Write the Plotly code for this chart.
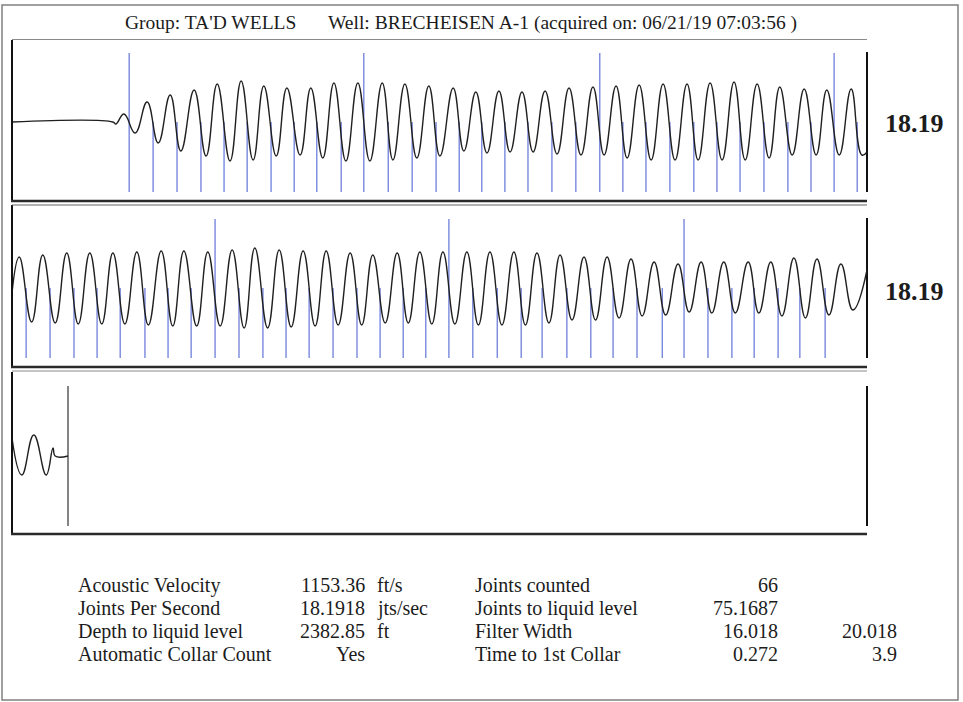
import plotly.graph_objects as go

# ---------------- data ----------------
title_group = "Group: TA'D WELLS"
title_well = "Well: BRECHEISEN A-1 (acquired on: 06/21/19 07:03:56 )"

# acoustic trace: time (s) and amplitude (arbitrary units), sampled at extrema
trace1_t = [0.000, 0.236, 0.243, 0.262, 0.288, 0.316, 0.342, 0.370, 0.395, 0.426, 0.454,
            0.480, 0.510, 0.536, 0.564, 0.589, 0.618, 0.643, 0.674, 0.699, 0.727, 0.753,
            0.781, 0.809, 0.837, 0.866, 0.891, 0.919, 0.947, 0.975, 1.001, 1.032, 1.057,
            1.085, 1.111, 1.139, 1.165, 1.193, 1.219, 1.247, 1.275, 1.303, 1.331, 1.359,
            1.385, 1.413, 1.439, 1.467, 1.495, 1.523, 1.551, 1.579, 1.605, 1.633, 1.661,
            1.689, 1.715, 1.743, 1.771, 1.796, 1.825, 1.853, 1.881, 1.906, 1.935, 1.963,
            1.988, 2.000]
trace1_a = [0, 0, -2, 8, -11, 20, -21, 27, -29, 32, -34,
            38, -39, 41, -38, 36, -34, 34, -33, 34, -36, 39,
            -39, 39, -39, 39, -38, 38, -36, 36, -34, 34, -29,
            30, -31, 31, -30, 30, -30, 31, -32, 34, -33, 35,
            -33, 36, -36, 37, -38, 38, -38, 38, -38, 39, -38,
            40, -38, 38, -36, 35, -33, 33, -33, 32, -33, 33,
            -33, -30]

trace2_t = [2.000, 2.017, 2.046, 2.072, 2.101, 2.128, 2.155, 2.182, 2.210, 2.236, 2.264,
            2.292, 2.319, 2.349, 2.376, 2.402, 2.432, 2.458, 2.487, 2.515, 2.543, 2.568,
            2.598, 2.625, 2.653, 2.681, 2.709, 2.735, 2.763, 2.791, 2.818, 2.844, 2.873,
            2.901, 2.927, 2.954, 2.982, 3.008, 3.036, 3.064, 3.091, 3.118, 3.146, 3.174,
            3.201, 3.228, 3.256, 3.282, 3.310, 3.338, 3.365, 3.392, 3.420, 3.448, 3.474,
            3.502, 3.529, 3.558, 3.584, 3.612, 3.637, 3.665, 3.692, 3.722, 3.747, 3.775,
            3.801, 3.829, 3.856, 3.883, 3.911, 3.939, 3.967, 4.000]
trace2_a = [-5, 31, -34, 33, -35, 35, -36, 35, -36, 35, -36,
            36, -37, 37, -38, 37, -38, 36, -38, 38, -40, 40,
            -40, 38, -39, 37, -38, 37, -37, 35, -37, 33, -35,
            35, -35, 36, -36, 36, -36, 36, -37, 36, -37, 36,
            -37, 35, -35, 33, -32, 31, -32, 31, -30, 29, -28,
            26, -27, 24, -24, 26, -25, 26, -25, 26, -25, 26,
            -28, 30, -30, 29, -27, 24, -22, 18]

trace3_t = [4.000, 4.023, 4.051, 4.080, 4.096, 4.101, 4.131]
trace3_a = [18, -19, 21, -19, 8, 0, 0]

# detected collars (s)
collar_times = [0.274, 0.330, 0.386, 0.442, 0.496, 0.550, 0.606, 0.660, 0.713, 0.770,
                0.823, 0.880, 0.936, 0.992, 1.046, 1.099, 1.153, 1.207, 1.263, 1.319,
                1.375, 1.429, 1.483, 1.539, 1.595, 1.649, 1.703, 1.759, 1.815, 1.869,
                1.923, 1.977, 2.033, 2.089, 2.145, 2.199, 2.253, 2.311, 2.365, 2.419,
                2.475, 2.531, 2.587, 2.641, 2.695, 2.751, 2.807, 2.861, 2.915, 2.968,
                3.022, 3.078, 3.135, 3.191, 3.240, 3.298, 3.354, 3.406, 3.462, 3.521,
                3.572, 3.628, 3.684, 3.736, 3.792, 3.843, 3.902]
major_collar_times = [0.274, 0.823, 1.375, 1.923, 2.475, 3.022, 3.572]
liquid_level_time = 4.131
panel_start_times = [0.0, 2.0, 4.0]
panel_span = 2.0
rate_labels = ["18.19", "18.19"]

# results table
left_labels = ["Acoustic Velocity", "Joints Per Second", "Depth to liquid level", "Automatic Collar Count"]
left_values = ["1153.36", "18.1918", "2382.85", "Yes"]
left_units = ["ft/s", "jts/sec", "ft", ""]
right_labels = ["Joints counted", "Joints to liquid level", "Filter Width", "Time to 1st Collar"]
right_values = ["66", "75.1687", "16.018", "0.272"]
extra_values = ["", "", "20.018", "3.9"]

# ---------------- layout geometry ----------------
W, H = 963, 702
PX_PER_S = 427.5
X_LEFT, X_END, X_DOM_RIGHT = 12, 867, 875
panels = [dict(top=40, bottom=201, center=122),
          dict(top=205, bottom=367, center=288),
          dict(top=372, bottom=534, center=456)]
MARK_TOP, MARK_BOT = 69, -70
SERIF = "Liberation Serif, Times New Roman, serif"
INK = "#1c1c1c"
BLUE = "#5468d4"


def px(x):
    return x / W


def py(y):
    return 1 - y / H


traces_t = [trace1_t, trace2_t, trace3_t]
traces_a = [trace1_a, trace2_a, trace3_a]

fig = go.Figure()
layout = dict(width=W, height=H, autosize=False, margin=dict(l=0, r=0, t=0, b=0),
              paper_bgcolor="white", plot_bgcolor="rgba(0,0,0,0)", showlegend=False)

shapes = []
for i, (p, t0) in enumerate(zip(panels, panel_start_times)):
    sfx = "" if i == 0 else str(i + 1)
    xa, ya = "x" + sfx, "y" + sfx
    layout["xaxis" + sfx] = dict(domain=[px(X_LEFT), px(X_DOM_RIGHT)],
                                 range=[t0, t0 + (X_DOM_RIGHT - X_LEFT) / PX_PER_S],
                                 visible=False, fixedrange=True, anchor=ya)
    layout["yaxis" + sfx] = dict(domain=[py(p["bottom"]), py(p["top"])],
                                 range=[p["center"] - p["bottom"], p["center"] - p["top"]],
                                 visible=False, fixedrange=True, anchor=xa)

    # collar markers
    mx, my = [], []
    for c in collar_times:
        if t0 <= c < t0 + panel_span:
            top = MARK_TOP if c in major_collar_times else 0
            mx += [c, c, None]
            my += [MARK_BOT, top, None]
    if mx:
        fig.add_trace(go.Scatter(x=mx, y=my, mode="lines", xaxis=xa, yaxis=ya,
                                 line=dict(color=BLUE, width=1.1), hoverinfo="skip"))
    # end of panel marker
    fig.add_trace(go.Scatter(x=[t0 + panel_span] * 2, y=[MARK_BOT, MARK_TOP + 1], mode="lines",
                             xaxis=xa, yaxis=ya, line=dict(color="#111", width=2), hoverinfo="skip"))
    if t0 <= liquid_level_time < t0 + panel_span:
        fig.add_trace(go.Scatter(x=[liquid_level_time] * 2, y=[MARK_BOT, MARK_TOP + 1], mode="lines",
                                 xaxis=xa, yaxis=ya, line=dict(color="#333", width=1.2),
                                 hoverinfo="skip"))
    # acoustic trace
    fig.add_trace(go.Scatter(x=traces_t[i], y=traces_a[i], mode="lines", xaxis=xa, yaxis=ya,
                             line=dict(color="#202020", width=1.4, shape="spline", smoothing=1.3),
                             hoverinfo="skip"))

    # frame lines
    shapes.append(dict(type="line", xref="paper", yref="paper", x0=px(X_LEFT), x1=px(X_LEFT),
                       y0=py(p["top"]), y1=py(p["bottom"]), line=dict(color="#111", width=2)))
    shapes.append(dict(type="line", xref="paper", yref="paper", x0=px(X_LEFT - 1), x1=px(X_END),
                       y0=py(p["bottom"]), y1=py(p["bottom"]), line=dict(color="#2a2a2a", width=2.6)))

# top lines of panels
shapes.append(dict(type="line", xref="paper", yref="paper", x0=px(X_LEFT), x1=px(X_END),
                   y0=py(39.5), y1=py(39.5), line=dict(color="#8a8a8a", width=1)))
shapes.append(dict(type="line", xref="paper", yref="paper", x0=px(X_LEFT), x1=px(X_END),
                   y0=py(205), y1=py(205), line=dict(color="#666", width=1.2)))
shapes.append(dict(type="line", xref="paper", yref="paper", x0=px(X_LEFT), x1=px(X_END),
                   y0=py(371), y1=py(371), line=dict(color="#888", width=1)))
# outer page border
shapes.append(dict(type="rect", xref="paper", yref="paper", x0=px(2), x1=px(958),
                   y0=py(700), y1=py(5), line=dict(color="#808080", width=1.5)))
layout["shapes"] = shapes

ann = []


def text(x, y, s, anchor="left", size=20, bold=False):
    ann.append(dict(x=px(x), y=py(y), xref="paper", yref="paper", text=("<b>%s</b>" % s) if bold else s,
                    showarrow=False, xanchor=anchor, yanchor="middle", borderpad=0, borderwidth=0,
                    font=dict(family=SERIF, size=size, color=INK)))


text(125, 23, title_group, size=19.5)
text(328, 23, title_well, size=19.5)
text(914, 124, rate_labels[0], anchor="center", size=26, bold=True)
text(914, 291, rate_labels[1], anchor="center", size=26, bold=True)

row_y = [585, 608, 631, 654]
for k, y in enumerate(row_y):
    text(78, y, left_labels[k])
    text(365, y, left_values[k], anchor="right")
    if left_units[k]:
        text(377, y, left_units[k])
    text(475, y, right_labels[k])
    text(778, y, right_values[k], anchor="right")
    if extra_values[k]:
        text(897, y, extra_values[k], anchor="right")
layout["annotations"] = ann

fig.update_layout(**layout)
fig.write_html("out.html", config={"displayModeBar": False, "staticPlot": True},
               post_script="document.body.style.margin='0px';document.body.style.overflow='hidden';")
